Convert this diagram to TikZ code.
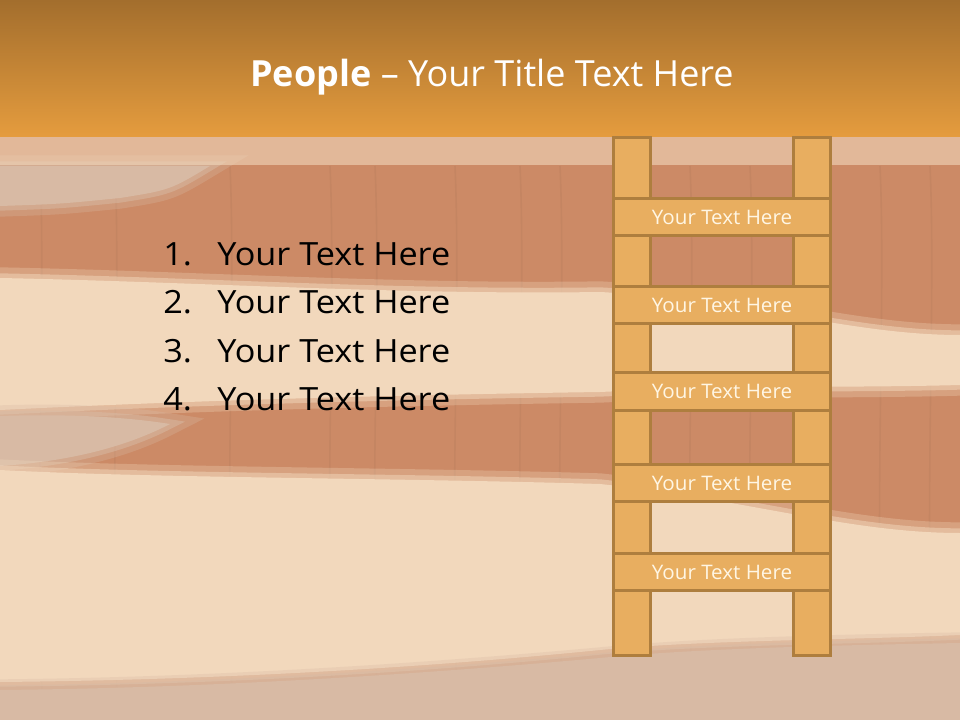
\documentclass[tikz,border=0pt]{standalone}
\usepackage{fontspec}
\setmainfont{Open Sans}
\newfontfamily\listfont[FakeStretch=1.07]{Open Sans}
\newfontfamily\rungfont[FakeStretch=1.03]{Open Sans}
\definecolor{woodbase}{RGB}{204,138,102}
\definecolor{woodcream}{RGB}{242,216,188}
\definecolor{woodgrey}{RGB}{216,186,164}
\definecolor{headtop}{RGB}{163,110,45}
\definecolor{headbottom}{RGB}{229,156,62}
\definecolor{railfill}{RGB}{232,174,96}
\definecolor{railedge}{RGB}{174,126,62}
\definecolor{rungtext}{RGB}{255,246,228}

\begin{document}
\begin{tikzpicture}[x=0.75pt,y=-0.75pt,
  softband/.style={fill=#1,preaction={draw=#1,opacity=.3,line width=16pt},
    preaction={draw=#1,opacity=.5,line width=7pt}},
  rail/.style={draw=railedge,fill=railfill,line width=2.2pt},
  rung/.style={draw=railedge,fill=railfill,line width=2.2pt,minimum width=162pt,
    minimum height=28pt,inner sep=0pt,text=rungtext,font=\rungfont\fontsize{15}{17}\selectfont},
  item/.style={anchor=base west,inner sep=0pt,font=\listfont\fontsize{24}{28}\selectfont}]
\path[use as bounding box] (0,0) rectangle (960,720);
% wood background
\fill[woodbase] (0,0) rectangle (960,720);
\foreach \gx in {40,115,230,330,375,455,520,560,690,750,880,930}
  \draw[woodbase!70!black,opacity=.12,line width=1.2pt] (\gx,166) .. controls (\gx+6,300) and (\gx-6,500) .. (\gx+3,720);
\path[softband=woodgrey] (0,166) -- (210,166) .. controls (170,190) .. (120,198) .. controls (60,204) .. (0,206) -- cycle;
\path[softband=woodcream] (0,278) .. controls (200,282) and (400,295) .. (600,292)
  .. controls (750,300) and (850,335) .. (960,335) -- (960,385)
  .. controls (850,388) and (750,385) .. (600,392)
  .. controls (400,395) and (200,400) .. (0,410) -- cycle;
\path[softband=woodgrey] (0,416) .. controls (60,414) and (120,416) .. (170,424)
  .. controls (120,450) and (60,462) .. (0,466) -- cycle;
\path[softband=woodcream] (0,470) .. controls (150,478) and (400,478) .. (600,484)
  .. controls (750,500) and (850,533) .. (960,533) -- (960,635)
  .. controls (850,640) and (700,640) .. (600,650)
  .. controls (400,670) and (200,680) .. (0,682) -- cycle;
\path[softband=woodgrey] (0,690) .. controls (200,688) and (400,676) .. (600,658)
  .. controls (700,648) and (850,645) .. (960,643) -- (960,720) -- (0,720) -- cycle;
% header
\shade[top color=headtop,bottom color=headbottom] (0,0) rectangle (960,137);
\fill[woodcream,opacity=.6] (0,137) rectangle (960,165);
\node[text=white,anchor=base,inner sep=0pt,font=\fontsize{27}{32}\selectfont] (title) at (492,87)
  {\textbf{People} -- Your Title Text Here};
% numbered list
\node[item] (num1) at (163,266) {1.};
\node[item] (txt1) at (217,266) {Your Text Here};
\node[item] (num2) at (163,314) {2.};
\node[item] (txt2) at (217,314) {Your Text Here};
\node[item] (num3) at (163,362) {3.};
\node[item] (txt3) at (217,362) {Your Text Here};
\node[item] (num4) at (163,410) {4.};
\node[item] (txt4) at (217,410) {Your Text Here};
% ladder
\draw[rail] (613.5,137.5) rectangle (650.5,655.5);
\draw[rail] (793.5,137.5) rectangle (830.5,655.5);
\node[rung] (rungA) at (722,217) {Your Text Here};
\node[rung] (rungB) at (722,305) {Your Text Here};
\node[rung] (rungC) at (722,391.5) {Your Text Here};
\node[rung] (rungD) at (722,483) {Your Text Here};
\node[rung] (rungE) at (722,572) {Your Text Here};
\end{tikzpicture}
\end{document}
